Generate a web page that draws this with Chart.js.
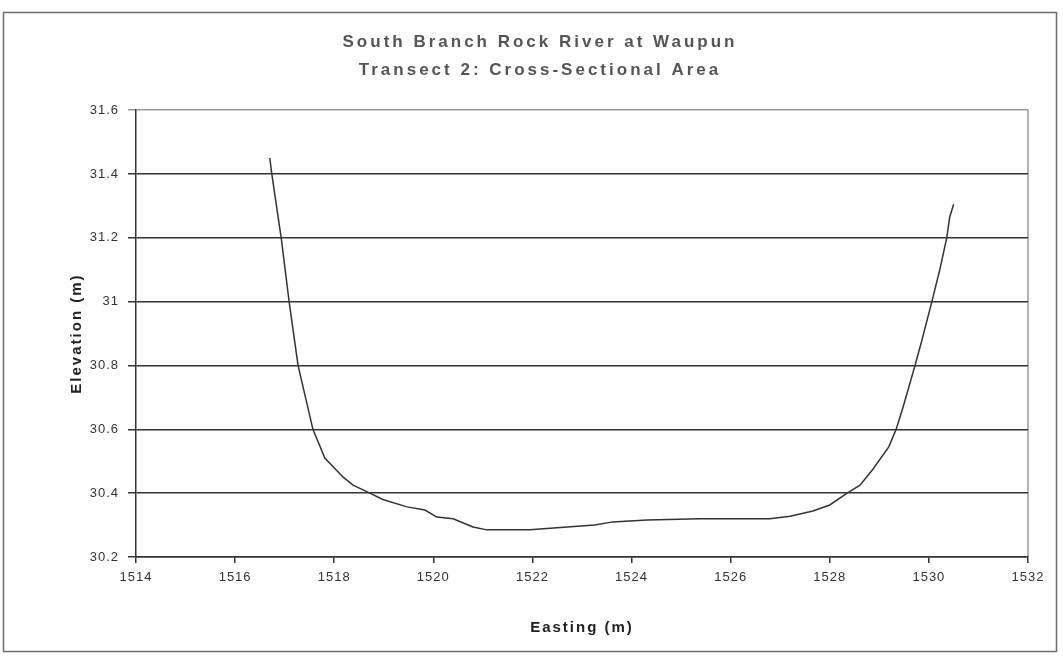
<!DOCTYPE html>
<html>
<head>
<meta charset="utf-8">
<script src="https://cdn.jsdelivr.net/npm/chart.js@4/dist/chart.umd.min.js"></script>
<style>
  html, body { margin: 0; padding: 0; background: #fff; }
  #wrap { position: absolute; left: 0; top: 0; width: 1063px; height: 663px; }
</style>
</head>
<body>
<div id="wrap"><canvas id="myChart" width="1063" height="663"></canvas></div>
<script>
// transect survey points
let easting = [1516.70, 1516.74, 1516.93, 1517.09, 1517.27, 1517.57, 1517.81, 1518.18, 1518.38, 1518.72,
               1518.98, 1519.47, 1519.83, 1520.07, 1520.40, 1520.80, 1521.08, 1521.95, 1522.70, 1523.26,
               1523.62, 1524.31, 1525.38, 1526.79, 1527.20, 1527.66, 1528.00, 1528.35, 1528.61, 1528.87,
               1529.19, 1529.34, 1529.48, 1529.72, 1529.86, 1530.06, 1530.22, 1530.36, 1530.42, 1530.50];
let elevation = [31.45, 31.40, 31.20, 31.00, 30.80, 30.60, 30.51, 30.45, 30.425, 30.40,
                 30.38, 30.357, 30.347, 30.325, 30.32, 30.294, 30.285, 30.285, 30.294, 30.30,
                 30.31, 30.316, 30.32, 30.32, 30.328, 30.344, 30.363, 30.40, 30.425, 30.475,
                 30.545, 30.60, 30.67, 30.80, 30.88, 31.00, 31.10, 31.20, 31.265, 31.305];

let xTicks = [1514, 1516, 1518, 1520, 1522, 1524, 1526, 1528, 1530, 1532];
let yTicks = [30.2, 30.4, 30.6, 30.8, 31, 31.2, 31.4, 31.6];
let yTickLabels = ["30.2", "30.4", "30.6", "30.8", "31", "31.2", "31.4", "31.6"];

let titleLines = ["South Branch Rock River at Waupun", "Transect 2: Cross-Sectional Area"];

let points = easting.map((x, i) => ({ x: x, y: elevation[i] }));

const FONT = 'Liberation Sans, Arial, sans-serif';

// the old excel picture has wide, spaced-out lettering -> add letter spacing by font size
const ctx = document.getElementById('myChart').getContext('2d');
const fontDesc = Object.getOwnPropertyDescriptor(CanvasRenderingContext2D.prototype, 'font');
Object.defineProperty(ctx, 'font', {
  get() { return fontDesc.get.call(this); },
  set(v) {
    fontDesc.set.call(this, v);
    let sp = '0px';
    if (v.indexOf('17px') >= 0) sp = '3px';
    else if (v.indexOf('15px') >= 0) sp = '2px';
    else if (v.indexOf('13px') >= 0) sp = '1px';
    this.letterSpacing = sp;
  }
});

// outer chart frame + grey plot-area edge on the right
const framePlugin = {
  id: 'frame',
  beforeDraw(chart) {
    const c = chart.ctx;
    const a = chart.chartArea;
    c.save();
    c.fillStyle = '#fff';
    c.fillRect(0, 0, chart.width, chart.height);
    c.strokeStyle = '#6e6e6e';
    c.lineWidth = 1.5;
    c.strokeRect(3.5, 12.5, 1053, 639);
    c.strokeStyle = '#9a9a9a';
    c.beginPath();
    c.moveTo(a.right, a.top);
    c.lineTo(a.right, a.bottom);
    c.stroke();
    c.restore();
  }
};

const myChart = new Chart(ctx, {
  type: 'scatter',
  data: {
    datasets: [{
      data: points,
      showLine: true,
      borderColor: '#333',
      borderWidth: 1.5,
      pointRadius: 0,
      tension: 0
    }]
  },
  options: {
    responsive: false,
    animation: false,
    layout: { padding: { left: 52, right: 35, top: 28, bottom: 0 } },
    plugins: {
      legend: { display: false },
      tooltip: { enabled: false },
      title: {
        display: true,
        text: titleLines,
        color: '#555',
        font: { family: FONT, size: 17, weight: 'bold', lineHeight: 1.65 },
        padding: { top: 0, bottom: 26 }
      }
    },
    scales: {
      x: {
        type: 'linear',
        min: 1514,
        max: 1532,
        afterBuildTicks: (scale) => { scale.ticks = xTicks.map(v => ({ value: v })); },
        afterFit: (scale) => { scale.height = 106; },
        ticks: {
          color: '#333',
          font: { family: FONT, size: 13 },
          padding: 7,
          maxRotation: 0,
          callback: (v) => String(v)
        },
        grid: { drawOnChartArea: false, color: '#333', lineWidth: 1.5, tickLength: 6 },
        border: { color: '#333', width: 1.5 },
        title: {
          display: true,
          text: 'Easting (m)',
          color: '#222',
          font: { family: FONT, size: 15, weight: 'bold' },
          padding: { top: 0, bottom: 26 }
        }
      },
      y: {
        min: 30.2,
        max: 31.6,
        afterBuildTicks: (scale) => { scale.ticks = yTicks.map(v => ({ value: v })); },
        afterFit: (scale) => { scale.width = 84; },
        ticks: {
          color: '#333',
          font: { family: FONT, size: 13 },
          padding: 9,
          callback: (v) => yTickLabels[yTicks.indexOf(Math.round(v * 10) / 10)]
        },
        grid: {
          color: (c) => (c.tick && c.tick.value === 31.6) ? '#9a9a9a' : '#333',
          lineWidth: 1.5,
          tickLength: 8
        },
        border: { color: '#333', width: 1.5 },
        title: {
          display: true,
          text: 'Elevation (m)',
          color: '#222',
          font: { family: FONT, size: 15, weight: 'bold' },
          padding: { top: 16, bottom: 0 }
        }
      }
    }
  },
  plugins: [framePlugin]
});
</script>
</body>
</html>
